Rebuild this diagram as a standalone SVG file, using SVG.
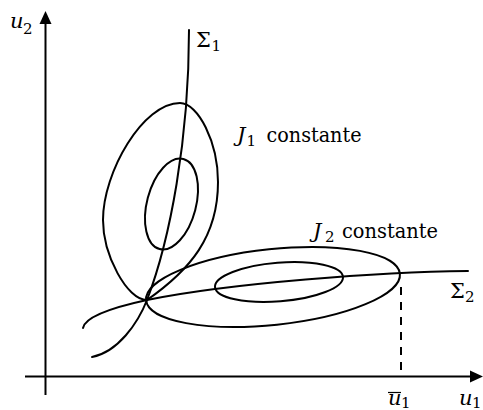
<svg xmlns="http://www.w3.org/2000/svg" width="483" height="410" viewBox="0 0 483 410">
<style>
.c{fill:none;stroke:#000;stroke-width:2;stroke-linecap:round;stroke-linejoin:round}
.ax{fill:none;stroke:#000;stroke-width:2}
.i{font-style:italic}
</style>
<rect width="483" height="410" fill="#fff"/>
<g id="axes">
  <line class="ax" x1="45.5" y1="395" x2="45.5" y2="22"/>
  <polygon points="45.5,11 39.5,24 51.5,24" fill="#000"/>
  <line class="ax" x1="25" y1="376.5" x2="472" y2="376.5"/>
  <polygon points="483,376.5 470,370.5 470,382.5" fill="#000"/>
  <line x1="401" y1="287" x2="401" y2="376" stroke="#000" stroke-width="2" stroke-dasharray="8 7"/>
</g>
<g id="sigma1">
  <path class="c" d="M189,30 C189,140 170,240 147,300 C138,323 118,352 92,357"/>
</g>
<g id="sigma2">
  <path class="c" d="M83,328 C85,317 110,308 147,300 C230,283 380,272 468,271"/>
</g>
<g id="J1">
  <path class="c" d="M147,300 C127,300 103,255 103,220 C103,172 143,103 180,103 C198,103 218,142 218,182 C218,237 190,270 147,300 Z"/>
  <ellipse class="c" cx="171.5" cy="204" rx="24.5" ry="46.6" transform="rotate(14.75 171.5 204)"/>
</g>
<g id="J2">
  <ellipse class="c" cx="273" cy="287" rx="127.6" ry="37.9" transform="rotate(-6.02 273 287)"/>
  <ellipse class="c" cx="279" cy="282" rx="64.2" ry="19.4" transform="rotate(-4.6 279 282)"/>
</g>
<g id="labels" font-family="'DejaVu Serif', 'Liberation Serif', serif" font-size="21" fill="#000">
  <text class="i" x="10" y="27.5">u</text><text font-size="15" x="23" y="34">2</text>
  <text x="196" y="46.5">Σ</text><text font-size="15" x="211.5" y="50.5">1</text>
  <text class="i" x="237" y="142">J</text><text font-size="15" x="246.5" y="145.5">1</text>
  <text x="266.5" y="142" textLength="95" lengthAdjust="spacingAndGlyphs">constante</text>
  <text class="i" x="313" y="238.3">J</text><text font-size="15" x="325" y="241.8">2</text>
  <text x="342" y="238.3" textLength="96" lengthAdjust="spacingAndGlyphs">constante</text>
  <text x="450" y="298.3">Σ</text><text font-size="15" x="465" y="302">2</text>
  <text class="i" x="388" y="405">u</text><text font-size="15" x="401" y="407.5">1</text>
  <line x1="388" y1="392.5" x2="401" y2="392.5" stroke="#000" stroke-width="1.2"/>
  <text class="i" x="459" y="405">u</text><text font-size="15" x="472" y="407.5">1</text>
</g>
</svg>
